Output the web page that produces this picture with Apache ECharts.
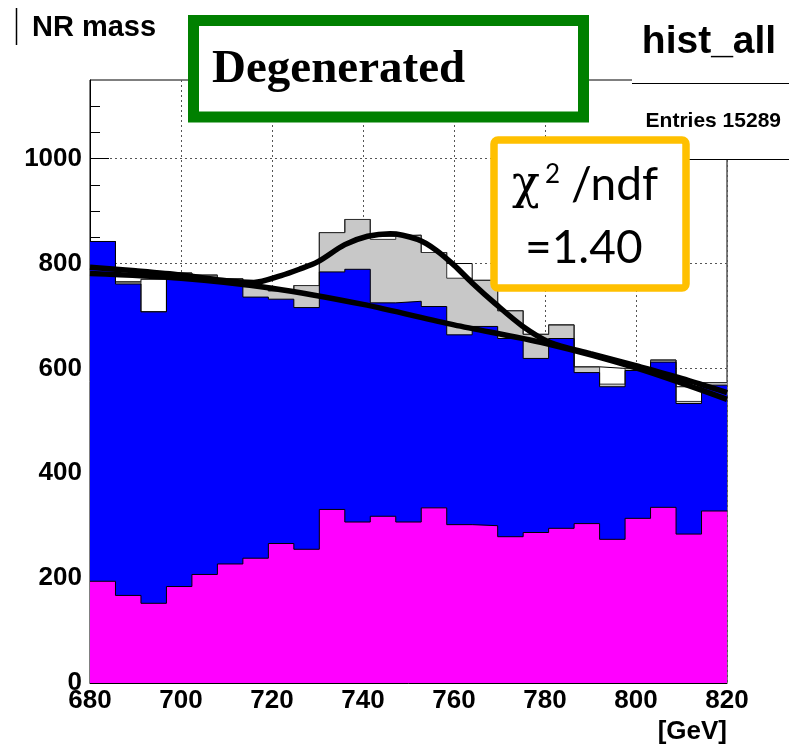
<!DOCTYPE html>
<html>
<head>
<meta charset="utf-8">
<script src="https://cdn.jsdelivr.net/npm/echarts@6/dist/echarts.min.js"></script>
<style>
  html, body { margin: 0; padding: 0; background: #fff; }
  #main { width: 789px; height: 745px; }
</style>
</head>
<body>
<div id="main"></div>
<script>
// histogram binning: 25 bins from 680 to 820 GeV
var binStart = 680
var binWidth = 5.6
var binCount = 25

// bin contents
var dataAll = [842, 765, 770, 782, 778, 771, 756, 748, 758, 859, 884, 852, 854, 821, 800, 768, 710, 665, 683, 603, 600, 600, 616, 565, 573]
var grayTop = [842, 765, 708, 782, 778, 771, 756, 748, 758, 859, 884, 846, 854, 821, 772, 768, 710, 665, 683, 603, 570, 600, 616, 537, 573]
var blueTop = [842, 761, 708, 778, 774, 767, 736, 732, 716, 784, 789, 725, 728, 718, 664, 680, 657, 619, 657, 592, 565, 596, 612, 533, 568]
var magenta = [194, 167, 152, 184, 207, 227, 238, 266, 255, 331, 307, 318, 307, 334, 302, 300, 279, 287, 295, 304, 274, 314, 335, 284, 328]

// fit curves (background only, background + peak)
var bgMass = [680, 700, 720, 740, 760, 780, 800, 820]
var bgFit = [781, 772, 753, 722, 683, 648, 601, 541]
var totMass = [680, 690, 700, 710, 716, 722, 726, 730, 736, 741, 746, 752, 756, 760, 764, 769, 775, 781, 790, 800, 810, 820]
var totFit = [793, 786, 778, 767, 764, 777, 789, 803, 836, 852, 857, 846, 826, 797, 763, 724, 681, 650, 628, 605, 581, 554]

var yMajor = [0, 200, 400, 600, 800, 1000]

function stepData (vals) {
  var out = []
  for (var i = 0; i <= binCount; i++) {
    out.push([binStart + i * binWidth, vals[Math.min(i, binCount - 1)]])
  }
  return out
}

function pairs (xs, ys) {
  return xs.map(function (x, i) { return [x, ys[i]] })
}

function histSeries (name, vals, fill, edge) {
  return {
    name: name,
    type: 'line',
    step: 'end',
    symbol: 'none',
    data: stepData(vals),
    lineStyle: { color: edge, width: 1 },
    areaStyle: { color: fill, opacity: 1 },
    silent: true
  }
}

function fitSeries (name, xs, ys) {
  return {
    name: name,
    type: 'line',
    smooth: 0.3,
    symbol: 'none',
    data: pairs(xs, ys),
    lineStyle: { color: '#000', width: 5.5 },
    silent: true
  }
}

var chart = echarts.init(document.getElementById('main'))
var labelFont = { fontFamily: 'Liberation Sans', fontWeight: 'bold', fontSize: 26, color: '#000' }
var plain = function (v) { return String(v) }
var minorTicks = []
for (var v = 50; v < 1150; v += 50) minorTicks.push(v)

var option = {
  animation: false,
  grid: { left: 90, right: 62, top: 80, bottom: 62, show: true, borderColor: '#000', borderWidth: 1 },
  xAxis: {
    type: 'value',
    min: 680,
    max: 820,
    interval: 20,
    axisLine: { lineStyle: { color: '#000' } },
    axisTick: { show: false },
    axisLabel: Object.assign({ margin: 5, formatter: plain }, labelFont),
    splitLine: { show: true, lineStyle: { color: '#555', type: [2, 3], width: 1 } }
  },
  yAxis: [
    {
      type: 'value',
      position: 'left',
      min: 0,
      max: 1150,
      interval: 200,
      axisLine: { show: true, lineStyle: { color: '#000' } },
      axisTick: { show: true, inside: true, length: 19, customValues: yMajor, lineStyle: { color: '#000' } },
      axisLabel: Object.assign({ margin: 8, customValues: yMajor, formatter: plain }, labelFont),
      splitLine: { show: true, lineStyle: { color: '#555', type: [2, 3], width: 1 } }
    },
    {
      type: 'value',
      position: 'left',
      min: 0,
      max: 1150,
      interval: 50,
      axisLine: { show: false },
      axisTick: { show: true, inside: true, length: 10, customValues: minorTicks, lineStyle: { color: '#000' } },
      axisLabel: { show: false },
      splitLine: { show: false }
    }
  ],
  series: [
    histSeries('hist_all', dataAll, '#ffffff', '#000'),
    histSeries('gray', grayTop, '#c8c8c8', '#333'),
    histSeries('blue', blueTop, '#0000ff', '#000'),
    histSeries('magenta', magenta, '#ff00ff', '#000'),
    fitSeries('background', bgMass, bgFit),
    fitSeries('total', totMass, totFit)
  ],
  graphic: [
    // title box
    { type: 'line', z: 100, shape: { x1: 16.5, y1: 8, x2: 16.5, y2: 45 }, style: { stroke: '#000', lineWidth: 1.5 } },
    { type: 'text', z: 100, x: 32, y: 28, style: { text: 'NR mass', fontFamily: 'Liberation Sans', fontWeight: 'bold', fontSize: 29, fill: '#000', verticalAlign: 'middle' } },
    // stats box
    { type: 'rect', z: 100, shape: { x: 632, y: 0, width: 157, height: 159 }, style: { fill: '#fff' } },
    { type: 'line', z: 101, shape: { x1: 632, y1: 83.5, x2: 789, y2: 83.5 }, style: { stroke: '#000', lineWidth: 1 } },
    { type: 'line', z: 101, shape: { x1: 632, y1: 159.5, x2: 789, y2: 159.5 }, style: { stroke: '#000', lineWidth: 1 } },
    { type: 'text', z: 101, x: 709, y: 42, style: { text: 'hist_all', fontFamily: 'Liberation Sans', fontWeight: 'bold', fontSize: 39, fill: '#000', align: 'center', verticalAlign: 'middle' } },
    { type: 'text', z: 101, x: 781, y: 121, style: { text: 'Entries 15289', fontFamily: 'Liberation Sans', fontWeight: 'bold', fontSize: 21, fill: '#000', align: 'right', verticalAlign: 'middle' } },
    // green label
    { type: 'rect', z: 102, shape: { x: 193.5, y: 20.5, width: 390, height: 96.5 }, style: { fill: '#fff', stroke: '#008000', lineWidth: 11 } },
    { type: 'text', z: 103, x: 212, y: 70, style: { text: 'Degenerated', fontFamily: 'Liberation Serif', fontWeight: 'bold', fontSize: 47, fill: '#000', verticalAlign: 'middle' } },
    // chi2 box
    { type: 'rect', z: 102, shape: { x: 494, y: 140, width: 192, height: 148, r: 4 }, style: { fill: '#fff', stroke: '#ffc000', lineWidth: 7.5 } },
    { type: 'text', z: 103, x: 512, y: 186, style: { text: 'χ', fontFamily: 'DejaVu Serif', fontSize: 46, fill: '#000', verticalAlign: 'middle' } },
    { type: 'text', z: 103, x: 545, y: 175, style: { text: '2', fontFamily: 'Lato', fontSize: 26, fill: '#000', verticalAlign: 'middle' } },
    { type: 'text', z: 103, x: 571, y: 185, style: { text: '/ndf', fontFamily: 'Lato', fontSize: 46, fill: '#000', verticalAlign: 'middle' } },
    { type: 'text', z: 103, x: 525, y: 248, style: { text: '=1.40', fontFamily: 'Lato', fontSize: 46, fill: '#000', verticalAlign: 'middle' } },
    // axis unit
    { type: 'text', z: 100, x: 727, y: 732, style: { text: '[GeV]', fontFamily: 'Liberation Sans', fontWeight: 'bold', fontSize: 26, fill: '#000', align: 'right', verticalAlign: 'middle' } }
  ]
}

chart.setOption(option)
</script>
</body>
</html>
